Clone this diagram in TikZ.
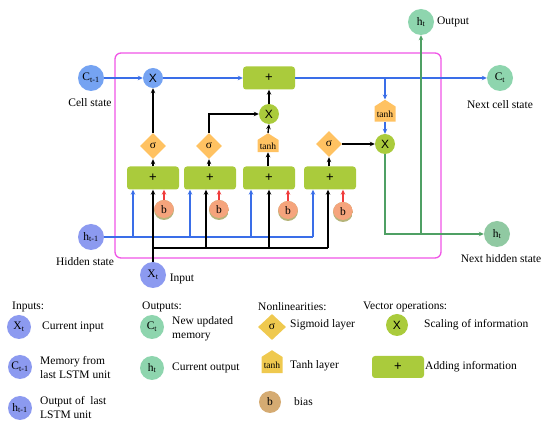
\documentclass[tikz,border=0pt]{standalone}
\usepackage{fontspec}
\setmainfont{Liberation Serif}
\newfontfamily\sansx{Liberation Sans}
\usetikzlibrary{shapes.geometric,shapes.symbols,arrows.meta}
\definecolor{cblue}{HTML}{75A3F2}
\definecolor{cpurp}{HTML}{8C9AF0}
\definecolor{cmint}{HTML}{8ED5AE}
\definecolor{cmintb}{HTML}{90C9A2}
\definecolor{cgreen}{HTML}{AACB3C}
\definecolor{corange}{HTML}{FFC262}
\definecolor{cyellow}{HTML}{EFC94F}
\definecolor{csalmon}{HTML}{F5A47C}
\definecolor{ckhaki}{HTML}{B5B47A}
\definecolor{ctan}{HTML}{D5AB72}
\definecolor{lblue}{HTML}{3A6EE8}
\definecolor{lred}{HTML}{F03C3C}
\definecolor{lgreen}{HTML}{4FA064}
\definecolor{cpink}{HTML}{F055E6}
\tikzset{
  statec/.style={circle, minimum size=26pt, inner sep=0pt, fill=#1, font=\fontsize{11.5}{12}\selectfont},
  legc/.style={circle, minimum size=24pt, inner sep=0pt, fill=#1, font=\fontsize{11.5}{12}\selectfont},
  opx/.style={circle, minimum size=20pt, inner sep=0pt, fill=#1, font=\sansx\fontsize{12}{12}\selectfont},
  opx/.default=cgreen,
  addbox/.style={rectangle, rounded corners=3pt, minimum width=52pt, minimum height=23pt, inner sep=0pt, fill=cgreen, font=\sansx\fontsize{13}{13}\selectfont},
  sig/.style={diamond, minimum width=26pt, minimum height=26pt, inner sep=0pt, fill=#1, font=\fontsize{11.5}{12}\selectfont},
  sig/.default=corange,
  tanhbox/.style={signal, signal to=north, signal from=nowhere, signal pointer angle=115, minimum width=21pt, minimum height=18pt, inner sep=1pt, fill=#1, font=\fontsize{9.5}{10}\selectfont},
  tanhbox/.default=corange,
  biasn/.style={circle, minimum size=20pt, inner sep=0pt, font=\fontsize{11.5}{12}\selectfont,
    path picture={\fill[ckhaki] (path picture bounding box.south west) rectangle (path picture bounding box.north east);
      \fill[csalmon] ([yshift=2pt]path picture bounding box.center) circle (10pt);}},
  lbl/.style={font=\fontsize{11.5}{14}\selectfont, align=left, inner sep=0pt},
  arr/.style={-{Stealth[length=5pt,width=4.5pt]}},
  bline/.style={draw=lblue, line width=1.3pt},
  kline/.style={draw=black, line width=1.4pt},
  rline/.style={draw=lred, line width=1.3pt},
  gline/.style={draw=lgreen, line width=1.4pt},
}
\begin{document}
\begin{tikzpicture}[x=1pt,y=-1pt]
\useasboundingbox (0,0) rectangle (550,430);
% frame
\draw[cpink, line width=1.3pt, rounded corners=6pt] (115,53) rectangle (441,258);
% top row
\node[statec=cblue] (cprev) at (91,78) {C\textsubscript{t-1}};
\node[lbl] (lcs) at (90,103) {Cell state};
\node[opx=cblue] (fx) at (153,78) {X};
\node[addbox] (addc) at (269,78) {+};
\node[statec=cmint] (cnext) at (500,78) {C\textsubscript{t}};
\node[lbl] (lncs) at (500,105) {Next cell state};
\node[statec=cmint] (hout) at (421,22) {h\textsubscript{t}};
\node[lbl] (lout) at (453,22) {Output};
% output gate
\node[tanhbox, minimum height=21pt] (otanh) at (385,114) {tanh};
\node[opx] (ox) at (385,144) {X};
\node[sig] (osig) at (329,144) {σ};
% input gate multiply
\node[opx] (ix) at (269,114) {X};
% gate boxes
\node[addbox] (g1) at (153,178) {+};
\node[addbox] (g2) at (210,178) {+};
\node[addbox] (g3) at (269,178) {+};
\node[addbox] (g4) at (330,178) {+};
\node[sig] (s1) at (153,146) {σ};
\node[sig] (s2) at (209,146) {σ};
\node[tanhbox] (t3) at (268,146) {tanh};
\node[biasn] (b1) at (164,210) {b};
\node[biasn] (b2) at (219,210) {b};
\node[biasn] (b3) at (288,211) {b};
\node[biasn] (b4) at (343,212) {b};
% inputs
\node[statec=cpurp] (hprev) at (91,237) {h\textsubscript{t-1}};
\node[lbl] (lhs) at (85,262) {Hidden state};
\node[statec=cpurp] (xt) at (153,275) {X\textsubscript{t}};
\node[lbl] (lin) at (182,279) {Input};
\node[statec=cmintb] (hnext) at (497,234) {h\textsubscript{t}};
\node[lbl] (lnhs) at (501,259) {Next hidden state};
% coordinates
\coordinate (br) at (385,78);
\coordinate (hb1) at (133,237);
\coordinate (hb2) at (190,237);
\coordinate (hb3) at (251,237);
\coordinate (hb4) at (313,237);
\coordinate (xb1) at (153,248);
\coordinate (xb2) at (206,248);
\coordinate (xb3) at (269,248);
\coordinate (xb4) at (328,248);
\coordinate (gj) at (421,234);
% cell state line
\draw[bline,arr] (cprev) -- (fx);
\draw[bline,arr] (fx) -- (addc);
\draw[bline,arr] (addc.east) -- (cnext.west);
\draw[bline,arr] (br) -- (otanh.north);
\draw[bline,arr] (otanh.south) -- (ox.north);
% green output
\draw[gline,arr] (ox.south) |- (hnext.west);
\draw[gline,arr] (gj) -- (hout.south);
% black internals
\draw[kline,arr] (osig.east) -- (ox.west);
\draw[kline,arr] (s1.north) -- (fx.south);
\draw[kline,arr] (s2.north) |- (ix.west);
\draw[kline,arr] (t3.north) -- (ix.south);
\draw[kline,arr] (ix.north) -- (addc.south);
\draw[kline,arr] (g1.north) -- (s1.south);
\draw[kline,arr] (g2.north -| s2.south) -- (s2.south);
\draw[kline,arr] (g3.north -| t3.south) -- (t3.south);
\draw[kline,arr] (g4.north -| osig.south) -- (osig.south);
% hidden state lines
\draw[bline] (hprev.east) -- (hb4);
\draw[bline,arr] (hb1) -- (hb1 |- g1.south);
\draw[bline,arr] (hb2) -- (hb2 |- g2.south);
\draw[bline,arr] (hb3) -- (hb3 |- g3.south);
\draw[bline,arr] (hb4) -- (hb4 |- g4.south);
% input lines
\draw[kline,arr] (xt.north) -- (xt.north |- g1.south);
\draw[kline] (xb1) -- (xb4);
\draw[kline,arr] (xb2) -- (xb2 |- g2.south);
\draw[kline,arr] (xb3) -- (xb3 |- g3.south);
\draw[kline,arr] (xb4) -- (xb4 |- g4.south);
% bias lines
\draw[rline,arr] (b1.north) -- (b1.north |- g1.south);
\draw[rline,arr] (b2.north) -- (b2.north |- g2.south);
\draw[rline,arr] (b3.north) -- (b3.north |- g3.south);
\draw[rline,arr] (b4.north) -- (b4.north |- g4.south);
% legend
\node[lbl, anchor=west] (hinp) at (12,307) {Inputs:};
\node[legc=cpurp] (lxt) at (19,327) {X\textsubscript{t}};
\node[lbl, anchor=west] (txt) at (42,327) {Current input};
\node[legc=cpurp] (lct) at (20,367) {C\textsubscript{t-1}};
\node[lbl, anchor=west] (tct) at (40,368) {Memory from\\last LSTM unit};
\node[legc=cpurp] (lht) at (20,408) {h\textsubscript{t-1}};
\node[lbl, anchor=west] (tht) at (40,408) {Output of\ \ last\\LSTM unit};
\node[lbl, anchor=west] (hout2) at (142,307) {Outputs:};
\node[legc=cmint] (lcn) at (152,327) {C\textsubscript{t}};
\node[lbl, anchor=west] (tcn) at (172,329) {New updated\\memory};
\node[legc=cmint] (lhn) at (152,368) {h\textsubscript{t}};
\node[lbl, anchor=west] (thn) at (172,368) {Current output};
\node[lbl, anchor=west] (hnl) at (258,307) {Nonlinearities:};
\node[sig=cyellow, minimum width=28pt] (lsig) at (272,327) {σ};
\node[lbl, anchor=west] (tsig) at (290,325) {Sigmoid layer};
\node[tanhbox=cyellow, minimum height=22pt] (ltanh) at (272,365) {tanh};
\node[lbl, anchor=west] (ttanh) at (290,366) {Tanh layer};
\node[circle, minimum size=22pt, inner sep=0pt, fill=ctan, font=\fontsize{11.5}{12}\selectfont] (lb) at (270,402) {b};
\node[lbl, anchor=west] (tb) at (294,402) {bias};
\node[lbl, anchor=west] (hvo) at (363,307) {Vector operations:};
\node[opx, minimum size=22pt] (lx) at (397,325) {X};
\node[lbl, anchor=west] (tx) at (424,325) {Scaling of information};
\node[addbox, minimum height=22pt] (ladd) at (398,367) {+};
\node[lbl, anchor=west] (tadd) at (425,367) {Adding information};
\end{tikzpicture}
\end{document}
